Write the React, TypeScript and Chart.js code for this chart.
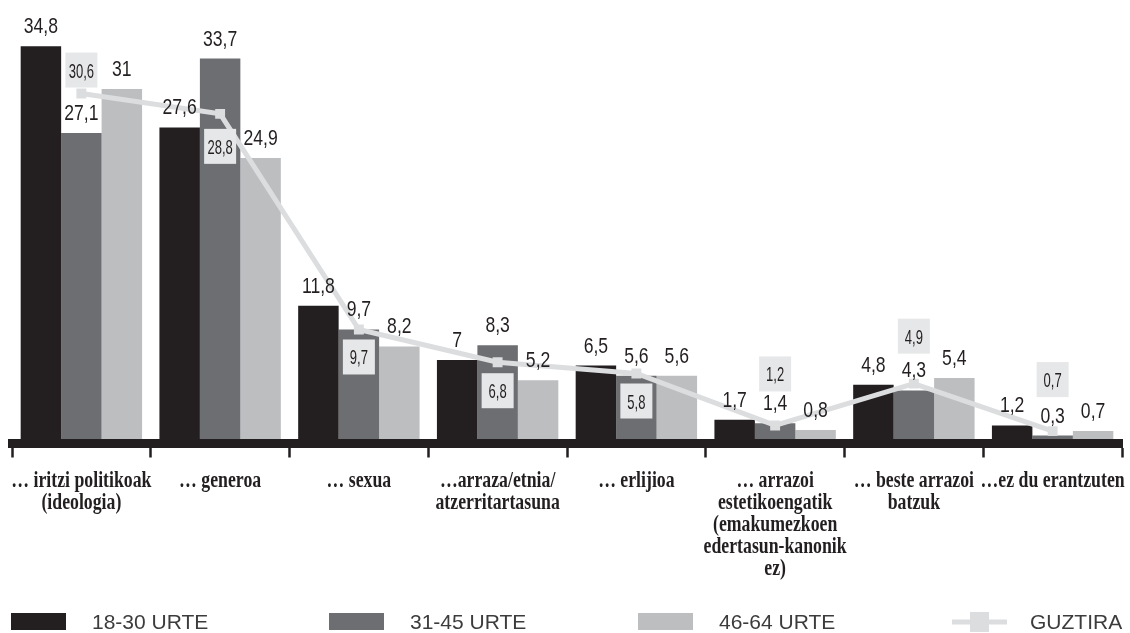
import React, { useEffect, useRef } from "react";
import { Chart, registerables } from "chart.js";

Chart.register(...registerables);

const categories: string[][] = [
  ["… iritzi politikoak", "(ideologia)"],
  ["… generoa"],
  ["… sexua"],
  ["…arraza/etnia/", "atzerritartasuna"],
  ["… erlijioa"],
  ["… arrazoi", "estetikoengatik", "(emakumezkoen", "edertasun-kanonik", "ez)"],
  ["… beste arrazoi", "batzuk"],
  ["…ez du erantzuten"],
];

const seriesNames = ["18-30 URTE", "31-45 URTE", "46-64 URTE"];
const totalName = "GUZTIRA";

const values1830 = [34.8, 27.6, 11.8, 7, 6.5, 1.7, 4.8, 1.2];
const values3145 = [27.1, 33.7, 9.7, 8.3, 5.6, 1.4, 4.3, 0.3];
const values4664 = [31, 24.9, 8.2, 5.2, 5.6, 0.8, 5.4, 0.7];
const valuesTotal = [30.6, 28.8, 9.7, 6.8, 5.8, 1.2, 4.9, 0.7];

// label placement for the total boxes (negative = above point, positive = below), px
const totalLabelOffsets = [-6, 15, 10, 11, 10, -34, -30, -34];

const barColors = ["#231f20", "#6d6e71", "#bcbec0"];
const lineColor = "#dcdddf";
const boxColor = "#e6e7e8";
const textColor = "#231f20";

const SANS = '"Liberation Sans", Arial, sans-serif';
const SERIF = '"Liberation Serif", "Times New Roman", serif';

const fmt = (v: number) => String(v).replace(".", ",");

function drawCondensed(
  ctx: CanvasRenderingContext2D,
  text: string,
  x: number,
  y: number,
  font: string,
  scaleX: number,
  color: string
) {
  ctx.save();
  ctx.font = font;
  ctx.fillStyle = color;
  ctx.textAlign = "center";
  ctx.textBaseline = "alphabetic";
  ctx.translate(x, y);
  ctx.scale(scaleX, 1);
  ctx.fillText(text, 0, 0);
  ctx.restore();
}

const labelPlugin = {
  id: "valueLabels",
  afterDatasetsDraw(chart: any) {
    const ctx: CanvasRenderingContext2D = chart.ctx;
    for (let i = 0; i < 3; i++) {
      const meta = chart.getDatasetMeta(i);
      const data = chart.data.datasets[i].data as number[];
      meta.data.forEach((el: any, j: number) => {
        const { x, y } = el.getProps(["x", "y"], true);
        drawCondensed(ctx, fmt(data[j]), x, y - 13, `22px ${SANS}`, 0.8, textColor);
      });
    }
    const lmeta = chart.getDatasetMeta(3);
    const ldata = chart.data.datasets[3].data as number[];
    const bw = 32;
    const bh = 35;
    lmeta.data.forEach((el: any, j: number) => {
      const { x, y } = el.getProps(["x", "y"], true);
      const off = totalLabelOffsets[j];
      const top = off < 0 ? y + off - bh : y + off;
      ctx.save();
      ctx.fillStyle = boxColor;
      ctx.fillRect(x - bw / 2, top, bw, bh);
      ctx.restore();
      drawCondensed(ctx, fmt(ldata[j]), x, top + bh / 2 + 7.5, `21px ${SANS}`, 0.62, textColor);
    });
  },
};

const categoryLabelPlugin = {
  id: "categoryLabels",
  afterDraw(chart: any) {
    const ctx: CanvasRenderingContext2D = chart.ctx;
    const xs = chart.scales.x;
    const labels = chart.data.labels as string[][];
    labels.forEach((lines, i) => {
      const x = xs.getPixelForTick(i);
      lines.forEach((t, k) => {
        drawCondensed(ctx, t, x, xs.top + 43.5 + k * 22, `bold 24px ${SERIF}`, 0.74, textColor);
      });
    });
  },
};

const legendPlugin = {
  id: "customLegend",
  afterDraw(chart: any) {
    const ctx: CanvasRenderingContext2D = chart.ctx;
    const starts = [11, 329, 638, 952];
    const cy = 622;
    ctx.save();
    ctx.font = `21px ${SANS}`;
    ctx.textBaseline = "middle";
    ctx.textAlign = "left";
    for (let i = 0; i < 3; i++) {
      ctx.fillStyle = barColors[i];
      ctx.fillRect(starts[i], 613, 55, 17);
      ctx.fillStyle = "#3c3c3c";
      ctx.fillText(seriesNames[i], starts[i] + 81, cy + 1);
    }
    const s = starts[3];
    ctx.fillStyle = lineColor;
    ctx.fillRect(s, cy - 2.5, 55, 5);
    ctx.fillRect(s + 18, cy - 10, 19, 20);
    ctx.fillStyle = "#3c3c3c";
    ctx.fillText(totalName, s + 78, cy + 1);
    ctx.restore();
  },
};

export default function App() {
  const ref = useRef<HTMLCanvasElement | null>(null);

  useEffect(() => {
    if (!ref.current) return;
    const chart = new Chart(ref.current, {
      type: "bar",
      data: {
        labels: categories,
        datasets: [
          {
            type: "bar",
            label: seriesNames[0],
            data: values1830,
            backgroundColor: barColors[0],
            order: 1,
          },
          {
            type: "bar",
            label: seriesNames[1],
            data: values3145,
            backgroundColor: barColors[1],
            order: 1,
          },
          {
            type: "bar",
            label: seriesNames[2],
            data: values4664,
            backgroundColor: barColors[2],
            order: 1,
          },
          {
            type: "line",
            label: totalName,
            data: valuesTotal,
            borderColor: lineColor,
            backgroundColor: lineColor,
            borderWidth: 5,
            pointStyle: "rect",
            pointRadius: 7,
            pointBorderWidth: 0,
            pointBackgroundColor: lineColor,
            tension: 0,
            order: 0,
          } as any,
        ],
      },
      options: {
        responsive: false,
        animation: false,
        devicePixelRatio: 1,
        layout: { padding: { left: 12, right: 8, top: 10, bottom: 49.5 } },
        datasets: {
          bar: { categoryPercentage: 0.875, barPercentage: 1.0 },
        },
        plugins: {
          legend: { display: false },
          tooltip: { enabled: false },
        },
        scales: {
          x: {
            offset: true,
            grid: {
              display: true,
              offset: true,
              drawOnChartArea: false,
              drawTicks: true,
              tickLength: 14,
              tickWidth: 2.5,
              tickColor: textColor,
            },
            border: { display: true, width: 9, color: textColor },
            ticks: {
              display: false,
              autoSkip: false,
              maxRotation: 0,
              minRotation: 0,
            },
            afterFit: (scale: any) => {
              scale.height = 140;
            },
          },
          y: { display: false, min: -0.4, max: 38 },
        },
      },
      plugins: [labelPlugin, categoryLabelPlugin, legendPlugin],
    });
    return () => chart.destroy();
  }, []);

  return (
    <div style={{ position: "absolute", left: 0, top: 0, width: 1130, height: 633, background: "#fff" }}>
      <canvas ref={ref} width={1130} height={633} />
    </div>
  );
}
